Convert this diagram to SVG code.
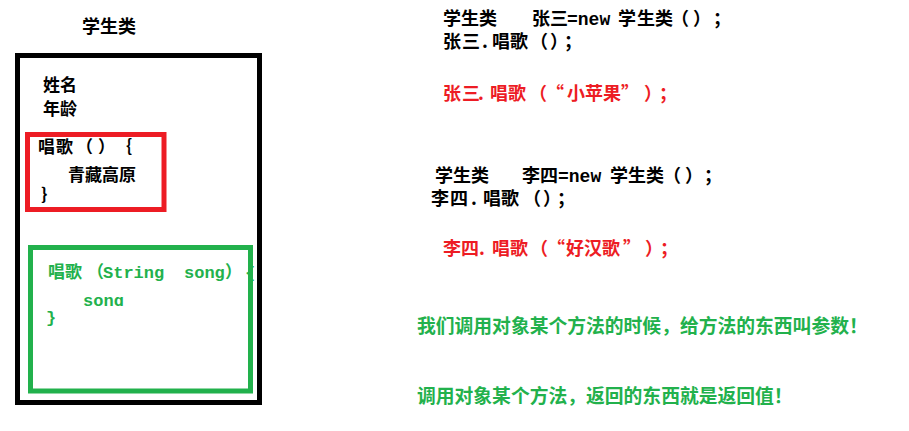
<svg xmlns="http://www.w3.org/2000/svg" width="909" height="431" viewBox="0 0 909 431">
<style>
text{font-family:"Noto Sans CJK SC","Liberation Sans",sans-serif;font-weight:bold;}
.k{fill:#000;font-size:18px;}
.ks{fill:#000;font-size:17px;}
.r{fill:#ed1c24;font-size:18px;}
.g{fill:#22b14c;font-size:18.8px;}
.gs{fill:#22b14c;font-size:17px;}
.m{font-family:"Liberation Mono",monospace;}
.box{fill:none;}
</style>
<defs>
<clipPath id="songclip"><rect x="30" y="250" width="220" height="56"/></clipPath>
</defs>
<rect width="909" height="431" fill="#fff"/>
<text class="k" x="82" y="33">学生类</text>
<g id="class-box">
<rect class="box" x="17.5" y="55.5" width="242" height="347" stroke="#000" stroke-width="5"/>
<text class="ks" x="43" y="91">姓名</text>
<text class="ks" x="43" y="115">年龄</text>
</g>
<g id="sing-method">
<rect class="box" x="27.5" y="134.5" width="136.5" height="75" stroke="#ed1c24" stroke-width="5"/>
<text class="ks" x="38 56 76 98 115" y="153">唱歌（）｛</text>
<text class="ks" x="68" y="181">青藏高原</text>
<text class="ks" x="41" y="200">}</text>
</g>
<g id="sing-param-method">
<text class="gs" x="48 65 87" y="278">唱歌（<tspan class="m" x="103">String</tspan><tspan class="m" x="184">song</tspan><tspan x="225">）</tspan><tspan class="m" x="245">{</tspan></text>
<text class="gs m" x="83" y="306" clip-path="url(#songclip)">song</text>
<text class="gs m" x="46" y="323">}</text>
<rect class="box" x="30.5" y="247.5" width="220" height="143.5" stroke="#22b14c" stroke-width="5"/>
</g>
<g id="zhangsan">
<text class="k" y="25"><tspan x="443">学生类</tspan><tspan x="532">张三</tspan><tspan class="m" x="567">=new</tspan><tspan x="618 637 655 671 693 713">学生类（）；</tspan></text>
<text class="k" x="443 462 482 492 510 530 550 564" y="48">张三.唱歌（）；</text>
<text class="r" x="443 462 478 490 508 529 546 567 585 603 621 644 659" y="100">张三.唱歌（“小苹果”）；</text>
</g>
<g id="lisi">
<text class="k" y="182"><tspan x="435">学生类</tspan><tspan x="522">李四</tspan><tspan class="m" x="558">=new</tspan><tspan x="610 628 646 663 685 704">学生类（）；</tspan></text>
<text class="k" x="431 450 471 483 501 523 543 557" y="205">李四.唱歌（）；</text>
<text class="r" x="443 461 479 492 510 530 547 566 584 602 623 645 660" y="255">李四.唱歌（“好汉歌”）；</text>
</g>
<g id="notes">
<text class="g" x="417" y="333">我们调用对象某个方法的时候，给方法的东西叫参数！</text>
<text class="g" x="417" y="403">调用对象某个方法，返回的东西就是返回值！</text>
</g>
<g id="connectors"></g>
</svg>
